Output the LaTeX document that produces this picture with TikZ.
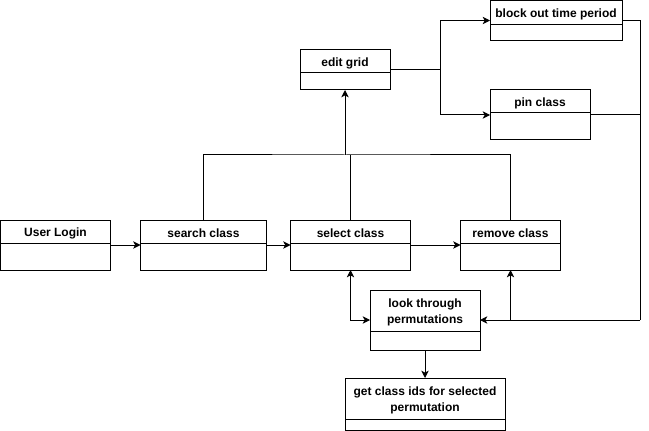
\documentclass[tikz,border=0pt]{standalone}
\usepackage{fontspec}
\setmainfont{Liberation Sans}
\usetikzlibrary{positioning}
\usetikzlibrary{arrows.meta}

\tikzset{
  cls/.style n args={4}{draw, inner sep=0pt, outer sep=0pt,
    minimum width={#1*0.75pt}, minimum height={#2*0.75pt},
    path picture={\draw ([yshift={-#3*0.75pt}]path picture bounding box.north west)
                     -- ([yshift={-#3*0.75pt}]path picture bounding box.north east);},
    label={[anchor=center, yshift={-#3*0.375pt-1.2pt}, align=center,
            font=\bfseries\fontsize{9}{12}\selectfont]north:#4}},
  arr/.style={-{Stealth[length=5.5pt, width=5.5pt, inset=1.5pt]}},
  both/.style={{Stealth[length=5.5pt, width=5.5pt, inset=1.5pt]}-{Stealth[length=5.5pt, width=5.5pt, inset=1.5pt]}}
}

\begin{document}
\begin{tikzpicture}[x=0.75pt, y=-0.75pt, line width=0.75pt]
\useasboundingbox (0,0) rectangle (649,431);

% Boxes
\node[cls={110}{50}{23}{User Login}, anchor=north west] (login) at (0.5,220) {};
\node[cls={126}{50}{23}{search class}, right=22.5pt of login] (search) {};
\node[cls={120}{50}{23}{select class}, right=18pt of search] (select) {};
\node[cls={100}{50}{23}{remove class}, right=37.5pt of select] (remove) {};
\node[cls={110}{60}{41}{look through\\permutations}, anchor=north west] (look) at (370,290) {};
\node[cls={160}{52}{41}{get class ids for selected\\permutation}, below=21pt of look] (getids) {};
\node[cls={90}{40}{23}{edit grid}, anchor=north west] (edit) at (300,50) {};
\node[cls={132}{40}{24}{block out time period}, anchor=north west] (block) at (490,0.5) {};
\node[cls={100}{50}{23}{pin class}, anchor=north west] (pin) at (490,90) {};

\coordinate (bus)  at (345,155);
\coordinate (fork) at (440,70);
\coordinate (rc)   at (640,320);

% Edges
\draw[arr] (login) -- (search);
\draw[arr] (search) -- (select);
\draw[arr] (select) -- (remove);

\draw (search.north) |- (bus) -| (remove.north);
\draw (select.north) -- (select.north |- bus);
\draw[arr] (bus) -- (edit.south);

\draw (edit.east) -- (fork);
\draw[arr] (fork) |- (block.west);
\draw[arr] (fork) |- (pin.west);

\draw (block.east) -| (rc);
\draw (pin.east) -- (pin.east -| rc);
\draw[arr] (rc) -- (look.east);
\draw[arr] (remove.south |- rc) -- (remove.south);

\draw[both] (select.south) |- (look.west);
\draw[arr] (look.south) -- (getids.north);

\end{tikzpicture}
\end{document}
